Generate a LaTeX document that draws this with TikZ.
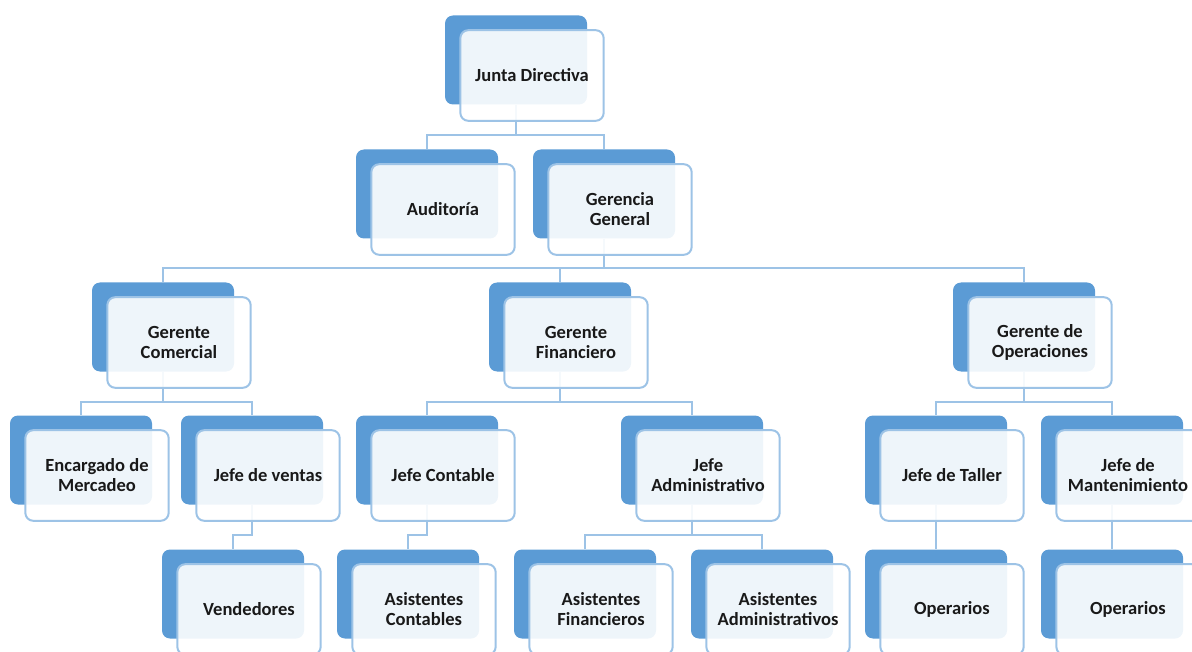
\documentclass[tikz,border=0pt]{standalone}
\usepackage{fontspec}
\setmainfont{Carlito}
\usetikzlibrary{positioning,backgrounds}

\definecolor{azulfondo}{HTML}{5B9BD5}
\definecolor{azulborde}{HTML}{9DC3E6}

\tikzset{
  fondo/.style={fill=azulfondo,rounded corners=6pt,minimum width=106.5pt,minimum height=66.75pt,inner sep=0pt},
  frente/.style={draw=azulborde,line width=1.5pt,fill=white,fill opacity=0.9,text opacity=1,
    rounded corners=6pt,minimum width=107.5pt,minimum height=68pt,inner sep=2pt,
    align=center,font=\fontsize{13.9}{15}\selectfont\bfseries,text=black!90},
  enlace/.style={draw=azulborde,line width=1.5pt}
}

% caja doble: nombre, x, y, texto
\newcommand{\caja}[4]{%
  \node[fondo] (#1) at (#2,#3) {};
  \node[frente] (#1-t) at ([shift={(16,15.5)}]#1.center) {#4};
}

\begin{document}
\begin{tikzpicture}[x=0.75pt,y=-0.75pt]
			\clip (0,0) rectangle (1192,652);

			% nivel 1
			\caja{junta}{516}{60}{Junta Directiva}

			% nivel 2
			\caja{audit}{427}{194}{Auditoría}
			\caja{gerencia}{604}{194}{Gerencia\\General}

			% gerentes
			\caja{comercial}{163}{327}{Gerente\\Comercial}
			\caja{financiero}{560}{327}{Gerente\\Financiero}
			\caja{operaciones}{1024}{327}{Gerente de\\Operaciones}

			% jefes
			\caja{mercadeo}{81}{460}{Encargado de\\Mercadeo}
			\caja{ventas}{252}{460}{Jefe de ventas}
			\caja{contable}{427}{460}{Jefe Contable}
			\caja{admin}{692}{460}{Jefe\\Administrativo}
			\caja{taller}{936}{460}{Jefe de Taller}
			\caja{manten}{1112}{460}{Jefe de\\Mantenimiento}

			% ultimo nivel
			\caja{vendedores}{233}{594}{Vendedores}
			\caja{asiscont}{408}{594}{Asistentes\\Contables}
			\caja{asisfin}{585}{594}{Asistentes\\Financieros}
			\caja{asisadm}{762}{594}{Asistentes\\Administrativos}
			\caja{opertaller}{936}{594}{Operarios}
			\caja{opermant}{1112}{594}{Operarios}

			% enlaces
			\begin{pgfonlayer}{background}
			\draw[enlace] (junta.south) -- ++(0,30) -| (audit.north);
			\draw[enlace] (junta.south) -- ++(0,30) -| (gerencia.north);
			\draw[enlace] (gerencia.south) -- ++(0,29) -| (comercial.north);
			\draw[enlace] (gerencia.south) -- ++(0,29) -| (financiero.north);
			\draw[enlace] (gerencia.south) -- ++(0,29) -| (operaciones.north);
			\draw[enlace] (comercial.south) -- ++(0,30) -| (mercadeo.north);
			\draw[enlace] (comercial.south) -- ++(0,30) -| (ventas.north);
			\draw[enlace] (financiero.south) -- ++(0,30) -| (contable.north);
			\draw[enlace] (financiero.south) -- ++(0,30) -| (admin.north);
			\draw[enlace] (operaciones.south) -- ++(0,30) -| (taller.north);
			\draw[enlace] (operaciones.south) -- ++(0,30) -| (manten.north);
			\draw[enlace] (ventas.south) -- ++(0,30) -| (vendedores.north);
			\draw[enlace] (contable.south) -- ++(0,30) -| (asiscont.north);
			\draw[enlace] (admin.south) -- ++(0,30) -| (asisfin.north);
			\draw[enlace] (admin.south) -- ++(0,30) -| (asisadm.north);
			\draw[enlace] (taller.south) -- (opertaller.north);
			\draw[enlace] (manten.south) -- (opermant.north);
			\end{pgfonlayer}
		\end{tikzpicture}
\end{document}
